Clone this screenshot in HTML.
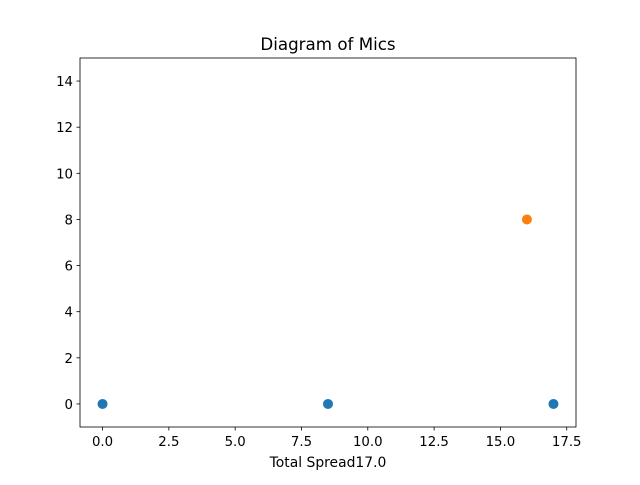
<!DOCTYPE html>
<html><head><meta charset="utf-8"><style>
body{margin:0;background:#fff;}
svg text{font-family:"DejaVu Sans","Liberation Sans",sans-serif;}
</style></head><body>
<svg id="chart" width="640" height="480">
<rect width="640" height="480" fill="#fff"/>
<g id="g"></g>
</svg>
<script>
const xTicks=[0,2.5,5,7.5,10,12.5,15,17.5];
const xTickLabels=["0.0","2.5","5.0","7.5","10.0","12.5","15.0","17.5"];
const yTicks=[0,2,4,6,8,10,12,14];
const micXs=[0,8.5,17];
const micYs=[0,0,0];
const srcXs=[16];
const srcYs=[8];
const X0=80,X1=576,Y0=58,Y1=427,xmin=-0.85,xmax=17.85,ymin=-1,ymax=15;
const sx=v=>X0+(v-xmin)/(xmax-xmin)*(X1-X0);
const sy=v=>Y1-(v-ymin)/(ymax-ymin)*(Y1-Y0);
const g=document.getElementById('g');const NS='http://www.w3.org/2000/svg';
function mk(t,a,txt){const e=document.createElementNS(NS,t);for(const k in a)e.setAttribute(k,a[k]);if(txt!=null)e.textContent=txt;g.appendChild(e);return e;}
let e;
xTicks.forEach((v,i)=>{
e=mk('line',{x1:sx(v),x2:sx(v),y1:Y1,y2:Y1+3.5,stroke:'#000','stroke-width':0.8});


e=mk('text',{x:sx(v),y:Y1+19,'font-size':13.3,'text-anchor':'middle'},xTickLabels[i]);


});
yTicks.forEach(v=>{
e=mk('line',{x1:X0-3.5,x2:X0,y1:sy(v),y2:sy(v),stroke:'#000','stroke-width':0.8});


e=mk('text',{x:X0-7,y:sy(v)+5,'font-size':13.3,'text-anchor':'end'},String(v));


});
micXs.forEach((v,i)=>{
e=mk('circle',{cx:sx(v),cy:sy(micYs[i]),r:5,fill:'#1f77b4'});


});
srcXs.forEach((v,i)=>{
e=mk('circle',{cx:sx(v),cy:sy(srcYs[i]),r:5,fill:'#ff7f0e'});


});
e=mk('rect',{x:X0,y:Y0,width:X1-X0,height:Y1-Y0,fill:'none',stroke:'#000','stroke-width':0.8});


e=mk('text',{x:(X0+X1)/2,y:Y0-8,'font-size':16.7,'text-anchor':'middle'},'Diagram of Mics');


e=mk('text',{x:(X0+X1)/2,y:Y1+40,'font-size':13.9,'text-anchor':'middle'},'Total Spread17.0');


</script>
</body></html>
